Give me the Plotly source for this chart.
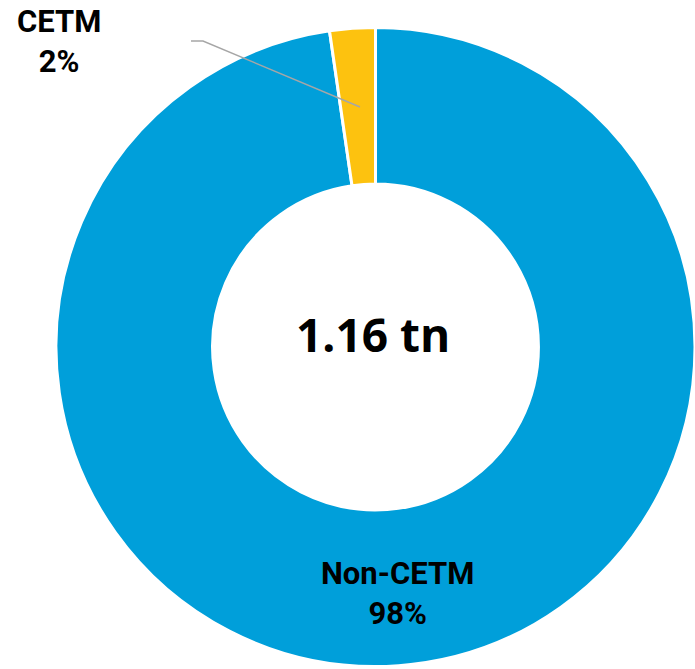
import plotly.graph_objects as go

labels = ["Non-CETM", "CETM"]
values = [97.7, 2.3]
label_text = ["Non-CETM<br>98%", "CETM<br>2%"]
colors = ["#009FDA", "#FDC20F"]
center_text = "1.16 tn"

W, H = 695, 669
fig = go.Figure(go.Pie(
    labels=labels, values=values, hole=0.51, sort=False, direction="clockwise",
    rotation=0, marker=dict(colors=colors, line=dict(color="white", width=3)),
    textinfo="none", hoverinfo="label+percent", showlegend=False,
    domain=dict(x=[56 / W, 1.0], y=[0.0, (H - 25) / H]),
))

ann_font = dict(family="Roboto", size=31, color="black")
fig.add_annotation(x=398 / W, y=1 - 593 / H, xref="paper", yref="paper", text="<b>" + label_text[0] + "</b>",
                   showarrow=False, font=ann_font, align="center", xanchor="center", yanchor="middle")
fig.add_annotation(x=59 / W, y=1 - 42 / H, xref="paper", yref="paper", text="<b>" + label_text[1] + "</b>",
                   showarrow=False, font=ann_font, align="center", xanchor="center", yanchor="middle")
fig.add_annotation(x=373 / W, y=1 - 334 / H, xref="paper", yref="paper", text="<b>" + center_text + "</b>",
                   showarrow=False, font=dict(family="Open Sans", size=46, color="black"),
                   xanchor="center", yanchor="middle")
fig.add_shape(type="path", xref="paper", yref="paper",
              path=f"M {191/W} {1-41/H} L {203/W} {1-41/H} L {360/W} {1-107/H}",
              line=dict(color="#A6A6A6", width=1.5))

fig.update_layout(width=W, height=H, margin=dict(l=0, r=0, t=0, b=0),
                  paper_bgcolor="white", plot_bgcolor="white")
fig.write_html("out.html")
